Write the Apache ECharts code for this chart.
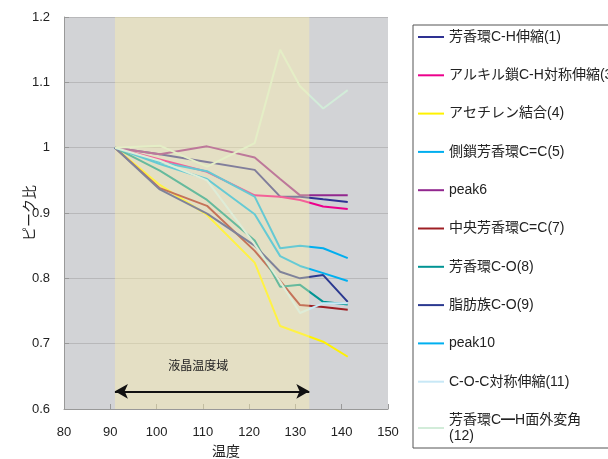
<!DOCTYPE html>
<html>
<head>
<meta charset="utf-8">
<script src="https://cdn.jsdelivr.net/npm/echarts@6/dist/echarts.min.js"></script>
<style>html,body{margin:0;padding:0;background:#fff;}#c{width:608px;height:459px;}</style>
</head>
<body>
<div id="c"></div>
<script>
const temps = [91, 100.7, 110.9, 121.2, 126.7, 131, 136, 141.3];
const seriesNames = ['芳香環C-H伸縮(1)', 'アルキル鎖C-H対称伸縮(3)', 'アセチレン結合(4)', '側鎖芳香環C=C(5)', 'peak6', '中央芳香環C=C(7)', '芳香環C-O(8)', '脂肪族C-O(9)', 'peak10', 'C-O-C対称伸縮(11)', '芳香環C━H面外変角\n(12)'];
const s1  = [1.0, 0.990, 0.978, 0.966, 0.925, 0.925, 0.921, 0.917];
const s3  = [1.0, 0.982, 0.963, 0.927, 0.925, 0.920, 0.910, 0.906];
const s4  = [1.0, 0.943, 0.897, 0.824, 0.727, 0.716, 0.703, 0.680];
const s5  = [1.0, 0.978, 0.964, 0.925, 0.846, 0.850, 0.846, 0.831];
const p6  = [1.0, 0.990, 1.002, 0.985, 0.952, 0.927, 0.927, 0.927];
const s7  = [1.0, 0.938, 0.911, 0.842, 0.796, 0.759, 0.756, 0.752];
const s8  = [1.0, 0.965, 0.920, 0.858, 0.787, 0.790, 0.764, 0.760];
const s9  = [1.0, 0.936, 0.899, 0.850, 0.810, 0.800, 0.805, 0.764];
const p10 = [1.0, 0.975, 0.952, 0.898, 0.834, 0.819, 0.808, 0.796];
const s11 = [1.0, 0.980, 0.950, 0.852, 0.795, 0.747, 0.762, 0.762];
const s12 = [1.0, 1.003, 0.971, 1.007, 1.150, 1.094, 1.060, 1.088];
const allValues = [s1, s3, s4, s5, p6, s7, s8, s9, p10, s11, s12];
const colors = ['#2e3192', '#ec008c', '#fff200', '#00aeef', '#92278f', '#9e1f24', '#009494', '#2b3990', '#00b0f0', '#c8e8f6', '#d2ecd9'];
const lcRange = [91, 133];
const arrowY = 0.627;
const lcLabel = '液晶温度域';
const lcLabelPos = [109, 0.664];
const xTicks = {min: 80, max: 150, interval: 10};
const yTicks = {min: 0.6, max: 1.2, interval: 0.1};

const font = "'Liberation Sans', 'Noto Sans CJK JP', sans-serif";
const chart = echarts.init(document.getElementById('c'), null, {renderer: 'canvas'});

const lineSeries = seriesNames.map((name, i) => ({
  name: name,
  type: 'line',
  symbol: 'none',
  z: 2,
  color: colors[i],
  lineStyle: {width: 2, color: colors[i]},
  data: temps.map((t, k) => [t, allValues[i][k]])
}));

const option = {
  animation: false,
  backgroundColor: '#ffffff',
  grid: {left: 64, right: 220, top: 17, bottom: 50, show: true, backgroundColor: '#d2d3d6', borderWidth: 0,
         containLabel: false, outerBoundsMode: 'none'},
  xAxis: {
    type: 'value', min: xTicks.min, max: xTicks.max, interval: xTicks.interval,
    name: '温度', nameLocation: 'middle', nameGap: 36, nameMoveOverlap: false,
    nameTextStyle: {fontFamily: font, fontSize: 14, color: '#222'},
    axisLine: {show: true, lineStyle: {color: '#999', width: 1}},
    axisTick: {show: true, inside: true, length: 5, lineStyle: {color: '#999'}},
    axisLabel: {fontFamily: font, fontSize: 13, color: '#222', margin: 17},
    splitLine: {show: false}
  },
  yAxis: {
    type: 'value', min: yTicks.min, max: yTicks.max, interval: yTicks.interval,
    name: 'ピーク比', nameLocation: 'middle', nameGap: 27, nameMoveOverlap: false,
    nameTextStyle: {fontFamily: font, fontSize: 14, color: '#222'},
    axisLine: {show: true, lineStyle: {color: '#999', width: 1}},
    axisTick: {show: true, inside: true, length: 5, lineStyle: {color: '#999'}},
    axisLabel: {fontFamily: font, fontSize: 13, color: '#222', margin: 14},
    splitLine: {show: true, lineStyle: {color: '#b8b8ba', width: 1}}
  },
  legend: {
    orient: 'vertical', left: 413, top: 25,
    data: seriesNames,
    icon: 'rect',
    padding: [4, 60, 4, 5],
    borderColor: '#555', borderWidth: 1,
    itemWidth: 26, itemHeight: 2, itemGap: 22.3,
    textStyle: {fontFamily: font, fontSize: 14, color: '#222', lineHeight: 16}
  },
  series: lineSeries.concat([
    {
      name: 'lcOverlay', type: 'line', data: [], z: 3, silent: true,
      markArea: {
        silent: true, z: 3,
        itemStyle: {color: 'rgba(255,243,170,0.4)'},
        data: [[{xAxis: lcRange[0]}, {xAxis: lcRange[1]}]]
      }
    },
    {
      name: 'lcArrow', type: 'line', data: [], z: 4, silent: true,
      markLine: {
        silent: true, z: 5,
        symbol: ['arrow', 'arrow'], symbolSize: [11, 13],
        lineStyle: {color: '#111', width: 2, type: 'solid'},
        label: {show: false},
        data: [[{coord: [lcRange[0], arrowY]}, {coord: [lcRange[1], arrowY]}]]
      },
      markPoint: {
        silent: true, z: 5,
        symbol: 'rect', symbolSize: 0,
        label: {show: true, position: 'inside', formatter: lcLabel, fontFamily: font, fontSize: 12, color: '#222'},
        data: [{coord: lcLabelPos}]
      }
    }
  ])
};
chart.setOption(option);
</script>
</body>
</html>
